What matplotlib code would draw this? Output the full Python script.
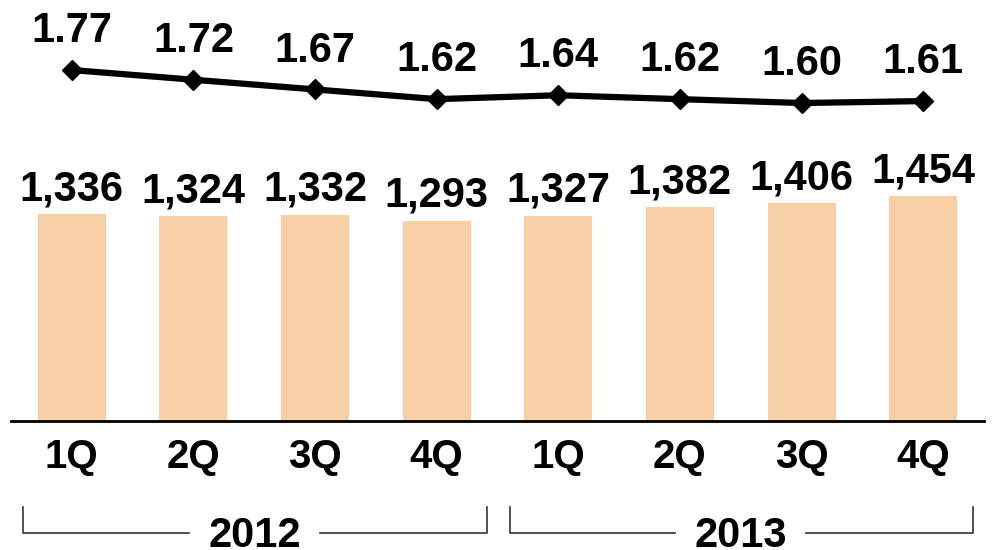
import matplotlib.pyplot as plt
from matplotlib.transforms import blended_transform_factory
from matplotlib.lines import Line2D

plt.rcParams['font.family'] = ['Liberation Sans', 'DejaVu Sans']

# --- data ---
quarters = ['1Q', '2Q', '3Q', '4Q', '1Q', '2Q', '3Q', '4Q']
bar_values = [1336, 1324, 1332, 1293, 1327, 1382, 1406, 1454]
line_values = [1.77, 1.72, 1.67, 1.62, 1.64, 1.62, 1.60, 1.61]
years = ['2012', '2013']
year_groups = [(0, 3), (4, 7)]

BAR_COLOR = '#F9CFA6'

fig = plt.figure(figsize=(9.94, 5.5), dpi=100)
# axes spans from pixel x=11..984, y(top)=0..421
ax = fig.add_axes([11 / 994, 129 / 550, 973 / 994, 421 / 550])
x = list(range(len(quarters)))

ax.bar(x, bar_values, width=0.56, color=BAR_COLOR, zorder=1)
ax.set_xlim(-0.5, len(quarters) - 0.5)
ax.set_ylim(0, 2720)

# bar labels
for xi, v in zip(x, bar_values):
    ax.annotate(f'{v:,}', (xi, v), xytext=(0, 10), textcoords='offset points',
                ha='center', va='baseline', fontsize=30, fontweight='bold')

# spines / ticks
for s in ['top', 'right', 'left']:
    ax.spines[s].set_visible(False)
ax.spines['bottom'].set_linewidth(2)
ax.set_yticks([])
ax.set_xticks(x)
ax.set_xticklabels(quarters, fontsize=29, fontweight='bold')
ax.tick_params(axis='x', length=0, pad=12)

# line on twin axis
ax2 = ax.twinx()
ax2.plot(x, line_values, color='black', linewidth=4.5, marker='D',
         markersize=10, zorder=3)
ax2.set_ylim(-0.039, 2.131)
ax2.set_yticks([])
for s in ax2.spines.values():
    s.set_visible(False)
for xi, v in zip(x, line_values):
    ax2.annotate(f'{v:.2f}', (xi, v), xytext=(0, 20), textcoords='offset points',
                 ha='center', va='baseline', fontsize=30, fontweight='bold')

# year brackets below the axis (gap in the middle for the year text)
trans = blended_transform_factory(ax.transData, fig.transFigure)
y_top = (550 - 507) / 550
y_bot = (550 - 533) / 550
gap = 0.54
for yr, (g0, g1) in zip(years, year_groups):
    left, right = g0 - 0.4, g1 + 0.41
    mid = (g0 + g1) / 2
    fig.add_artist(Line2D([left, left, mid - gap], [y_top, y_bot, y_bot],
                          transform=trans, color='#333333', linewidth=1.2,
                          clip_on=False))
    fig.add_artist(Line2D([mid + gap, right, right], [y_bot, y_bot, y_top],
                          transform=trans, color='#333333', linewidth=1.2,
                          clip_on=False))
    fig.text(mid, (550 - 547) / 550, yr, transform=trans,
             ha='center', va='baseline', fontsize=30, fontweight='bold')

fig.savefig('out.png', dpi=100)
